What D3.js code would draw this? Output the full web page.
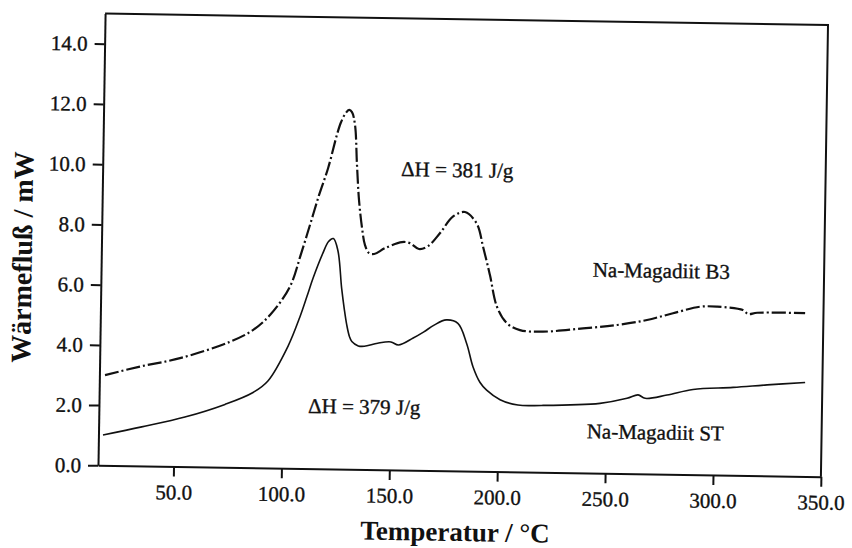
<!DOCTYPE html>
<meta charset="utf-8">
<head>
	<title>DSC Na-Magadiit</title>
</head>

<style>
body { margin: 0; background: #fff; }
svg { display: block; background: #fff; }
text { font-family: "Liberation Serif", "Times New Roman", serif; fill: #111; }
.axis path, .axis line { stroke: #111; stroke-width: 2; }
.axis text { font-size: 21px; font-family: "Liberation Serif", serif; fill: #111; stroke: #111; stroke-width: 0.35; }
.note { stroke: #111; stroke-width: 0.35; }
.curve { fill: none; stroke: #111; }
</style>

<body>
<svg width="852" height="548"></svg>

<script src="https://cdnjs.cloudflare.com/ajax/libs/d3/7.8.5/d3.min.js"></script>
<script>

// Na-Magadiit B3 (dash-dot curve)
var tempB3 = [17.6, 33.7, 52.2, 75.2, 85.8, 93.6, 102.6, 107.5, 111.5, 115.5, 119.5, 123.3, 125.0, 127.0, 128.8, 130.1, 131.6, 132.8, 134.0, 135.6, 137.1, 139.0, 141.4, 146.4, 154.2, 157.9, 162.1, 166.3, 171.8, 177.6, 183.2, 188.8, 191.8, 195.2, 198.7, 203.4, 209.5, 220.2, 238.7, 254.5, 268.3, 280.3, 292.8, 300.7, 312.7, 315.1, 319.3, 341.5];
var flowB3 = [3.00, 3.30, 3.60, 4.17, 4.57, 5.08, 6.03, 7.12, 8.10, 9.10, 10.00, 11.10, 11.50, 11.80, 11.93, 11.86, 11.43, 10.11, 8.94, 8.02, 7.45, 7.19, 7.16, 7.36, 7.57, 7.54, 7.35, 7.45, 7.89, 8.44, 8.60, 8.21, 7.46, 6.52, 5.47, 4.93, 4.71, 4.67, 4.80, 4.93, 5.11, 5.35, 5.58, 5.59, 5.49, 5.36, 5.41, 5.42];

// Na-Magadiit ST (solid curve)
var tempST = [17.1, 35.0, 54.9, 73.4, 86.3, 93.1, 102.2, 107.5, 110.6, 113.3, 117.7, 120.2, 122.4, 124.6, 126.6, 128.0, 129.2, 130.5, 131.7, 134.7, 137.5, 143.7, 149.8, 153.3, 160.1, 165.0, 169.7, 175.3, 180.7, 184.9, 188.0, 191.4, 194.5, 200.8, 209.1, 220.0, 247.1, 259.6, 264.7, 268.0, 278.1, 290.1, 308.7, 324.4, 342.0];
var flowST = [1.01, 1.30, 1.65, 2.09, 2.50, 2.89, 4.06, 5.04, 5.72, 6.33, 7.17, 7.55, 7.65, 7.25, 6.00, 5.30, 4.80, 4.42, 4.24, 4.10, 4.09, 4.20, 4.25, 4.15, 4.39, 4.60, 4.83, 5.01, 4.90, 4.24, 3.47, 2.95, 2.70, 2.39, 2.22, 2.22, 2.32, 2.50, 2.62, 2.51, 2.63, 2.83, 2.92, 3.02, 3.12];

var xTicks = [50, 100, 150, 200, 250, 300, 350];
var yTicks = [0, 2, 4, 6, 8, 10, 12, 14];

// annotations (text, temperature, heat flow)
var noteText = ['\u0394H = 381 J/g', '\u0394H = 379 J/g', 'Na-Magadiit B3', 'Na-Magadiit ST'];
var noteTemp = [153.3, 111.9, 242.8, 241.2];
var noteFlow = [9.76, 1.85, 6.52, 1.15];

var plotL = 101.5, plotR = 824.5, plotT = 19.2, plotB = 471;

var x = d3.scaleLinear().domain([15, 350]).range([plotL, plotR]);
var y = d3.scaleLinear().domain([0, 15]).range([plotB, plotT]);

// the scanned original is turned slightly clockwise
var g = d3.select('svg').append('g')
	.attr('transform', 'rotate(0.9, 460, 245)');

// frame top / right
g.append('path')
	.attr('d', 'M' + plotL + ',' + plotT + 'H' + plotR + 'V' + plotB)
	.attr('fill', 'none')
	.attr('stroke', '#111')
	.attr('stroke-width', 2);

g.append('g')
	.attr('class', 'axis')
	.attr('transform', 'translate(' + plotL + ',0)')
	.call(d3.axisLeft(y).tickValues(yTicks).tickFormat(d3.format('.1f'))
		.tickSize(10).tickSizeOuter(0).tickPadding(7));

g.append('g')
	.attr('class', 'axis')
	.attr('transform', 'translate(0,' + plotB + ')')
	.call(d3.axisBottom(x).tickValues(xTicks).tickFormat(d3.format('.1f'))
		.tickSize(10).tickSizeOuter(0).tickPadding(8));

var line = d3.line()
	.x(function(d) { return x(d[0]); })
	.y(function(d) { return y(d[1]); })
	.curve(d3.curveCatmullRom.alpha(0.5));

g.append('path')
	.datum(d3.zip(tempST, flowST))
	.attr('class', 'curve')
	.attr('stroke-width', 1.6)
	.attr('d', line);

g.append('path')
	.datum(d3.zip(tempB3, flowB3))
	.attr('class', 'curve')
	.attr('stroke-width', 2.2)
	.attr('stroke-dasharray', '14,3,2,3')
	.attr('d', line);

g.selectAll('.note')
	.data(d3.range(noteText.length))
	.enter()
	.append('text')
	.attr('class', 'note')
	.attr('x', function(i) { return x(noteTemp[i]); })
	.attr('y', function(i) { return y(noteFlow[i]); })
	.style('font-size', '21px')
	.text(function(i) { return noteText[i]; });

// axis titles
g.append('text')
	.attr('x', 459.6)
	.attr('y', 541)
	.attr('text-anchor', 'middle')
	.style('font-size', '27px')
	.style('font-weight', 'bold')
	.text('Temperatur / \u00B0C');

g.append('text')
	.attr('transform', 'translate(32,264) rotate(-90)')
	.attr('text-anchor', 'middle')
	.style('font-size', '28px')
	.style('font-weight', 'bold')
	.text('W\u00E4rmeflu\u00DF / mW');

</script>
</body>
</html>
